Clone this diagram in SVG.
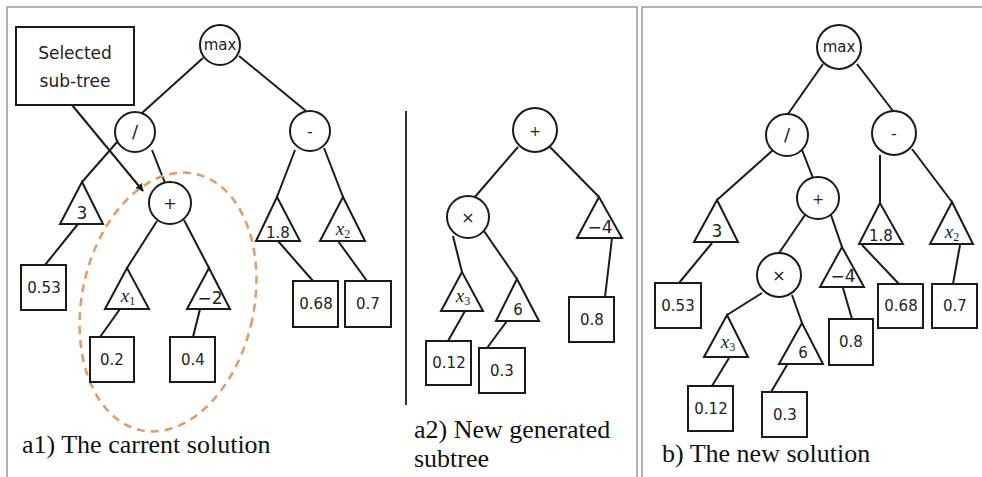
<svg xmlns="http://www.w3.org/2000/svg" width="982" height="477" viewBox="0 0 982 477">
<defs>
<style>
.frame{stroke:#9a9a9a;stroke-width:1.5;fill:none}
.e{stroke:#1a1a1a;stroke-width:2;fill:none}
.c{fill:#fff;stroke:#1a1a1a;stroke-width:2}
.t{fill:#fff;stroke:#1a1a1a;stroke-width:2;stroke-linejoin:miter}
.b{fill:#fff;stroke:#1a1a1a;stroke-width:2}
.op{font-family:"DejaVu Sans",sans-serif;font-size:16px;fill:#222;text-anchor:middle}
.mx{font-family:"DejaVu Sans",sans-serif;font-size:15px;fill:#222;text-anchor:middle}
.num{font-family:"DejaVu Sans",sans-serif;font-size:15px;fill:#222;text-anchor:middle}
.tl{font-family:"DejaVu Sans",sans-serif;font-size:15px;fill:#222;text-anchor:middle}
.var{font-family:"Liberation Serif",serif;font-style:italic;font-size:19px;fill:#222;text-anchor:middle}
.sub{font-style:normal;font-size:12px}
.cap{font-family:"Liberation Serif",serif;font-size:26px;fill:#111}
.note{font-family:"DejaVu Sans",sans-serif;font-size:17px;fill:#222;text-anchor:middle}
</style>
<marker id="ah" viewBox="0 0 10 10" refX="9" refY="5" markerWidth="8" markerHeight="8" orient="auto" markerUnits="userSpaceOnUse">
<path d="M0,0 L10,5 L0,10 z" fill="#1a1a1a"/>
</marker>
</defs>
<rect width="982" height="477" fill="#fff"/>
<g id="frames">
<path class="frame" d="M7,477 V7 H637 V477"/>
<path class="frame" d="M642,477 V7 H982"/>
<line x1="406" y1="111" x2="406" y2="405" stroke="#333" stroke-width="2"/>
</g>
<g id="connectors">
<line class="e" x1="203" y1="58" x2="142" y2="113"/>
<line class="e" x1="239" y1="56" x2="306" y2="111"/>
<line class="e" x1="118" y1="141" x2="82" y2="182"/>
<line class="e" x1="152" y1="150" x2="165" y2="183"/>
<line class="e" x1="295" y1="150" x2="277" y2="197"/>
<line class="e" x1="324" y1="148" x2="343" y2="197"/>
<line class="e" x1="157" y1="221" x2="127" y2="268"/>
<line class="e" x1="184" y1="220" x2="209" y2="268"/>
<line class="e" x1="78" y1="224" x2="45" y2="265"/>
<line class="e" x1="120" y1="309" x2="100" y2="337"/>
<line class="e" x1="200" y1="309" x2="193" y2="337"/>
<line class="e" x1="278" y1="241" x2="313" y2="281"/>
<line class="e" x1="338" y1="241" x2="367" y2="281"/>
<line class="e" x1="72" y1="105" x2="143" y2="191" marker-end="url(#ah)"/>
<line class="e" x1="518" y1="147" x2="474" y2="198"/>
<line class="e" x1="550" y1="147" x2="599" y2="197"/>
<line class="e" x1="453" y1="236" x2="462" y2="272"/>
<line class="e" x1="484" y1="231" x2="517" y2="279"/>
<line class="e" x1="465" y1="311" x2="448" y2="341"/>
<line class="e" x1="507" y1="321" x2="487" y2="348"/>
<line class="e" x1="612" y1="238" x2="605" y2="297"/>
<line class="e" x1="823" y1="64" x2="788" y2="114"/>
<line class="e" x1="857" y1="64" x2="893" y2="111"/>
<line class="e" x1="773" y1="150" x2="717" y2="200"/>
<line class="e" x1="802" y1="150" x2="813" y2="178"/>
<line class="e" x1="880" y1="155" x2="880" y2="203"/>
<line class="e" x1="912" y1="149" x2="952" y2="202"/>
<line class="e" x1="805" y1="215" x2="779" y2="253"/>
<line class="e" x1="831" y1="215" x2="842" y2="247"/>
<line class="e" x1="712" y1="243" x2="679" y2="283"/>
<line class="e" x1="862" y1="245" x2="899" y2="284"/>
<line class="e" x1="960" y1="245" x2="953" y2="284"/>
<line class="e" x1="762" y1="293" x2="727" y2="315"/>
<line class="e" x1="792" y1="295" x2="802" y2="323"/>
<line class="e" x1="843" y1="288" x2="852" y2="319"/>
<line class="e" x1="729" y1="358" x2="712" y2="386"/>
<line class="e" x1="787" y1="365" x2="771" y2="392"/>
</g>
<g id="selection">
<ellipse cx="168" cy="302" rx="86" ry="131" transform="rotate(12 168 302)" fill="none" stroke="#E39A63" stroke-width="2.5" stroke-dasharray="8 6"/>
</g>
<g id="note">
<rect x="16" y="27" width="118" height="78" fill="#fff" stroke="#1a1a1a" stroke-width="2"/>
<text class="note" x="75" y="59">Selected</text>
<text class="note" x="75" y="87">sub-tree</text>
</g>
<g id="a1-max"><circle class="c" cx="220" cy="45" r="20"/><text class="mx" x="220" y="50">max</text></g>
<g id="a1-div"><circle class="c" cx="135" cy="132" r="20"/><text class="op" x="135" y="138" style="font-size:18px">/</text></g>
<g id="a1-minus"><circle class="c" cx="310" cy="131" r="20"/><text class="op" x="310" y="137">-</text></g>
<g id="a1-plus"><circle class="c" cx="170" cy="203" r="21"/><text class="op" x="170" y="209">+</text></g>
<g id="a1-t3"><polygon class="t" points="82,182 60,224 103,224"/><text class="tl" x="82" y="219" style="font-size:17px">3</text></g>
<g id="a1-t18"><polygon class="t" points="277,197 256,241 300,241"/><text class="tl" x="278" y="238">1.8</text></g>
<g id="a1-tx2"><polygon class="t" points="343,197 320,241 365,241"/><text class="var" x="343" y="235">x<tspan class="sub" dy="3">2</tspan></text></g>
<g id="a1-tx1"><polygon class="t" points="127,268 105,309 149,309"/><text class="var" x="128" y="302">x<tspan class="sub" dy="3">1</tspan></text></g>
<g id="a1-tm2"><polygon class="t" points="209,268 187,309 230,309"/><text class="tl" x="210" y="304" style="font-size:17px">−2</text></g>
<g id="a1-b053"><rect class="b" x="21" y="265" width="45" height="45"/><text class="num" x="44" y="293">0.53</text></g>
<g id="a1-b02"><rect class="b" x="90" y="337" width="44" height="45"/><text class="num" x="112" y="365">0.2</text></g>
<g id="a1-b04"><rect class="b" x="170" y="337" width="45" height="45"/><text class="num" x="193" y="365">0.4</text></g>
<g id="a1-b068"><rect class="b" x="293" y="281" width="45" height="46"/><text class="num" x="316" y="309">0.68</text></g>
<g id="a1-b07"><rect class="b" x="345" y="281" width="46" height="46"/><text class="num" x="368" y="309">0.7</text></g>
<g id="a2-plus"><circle class="c" cx="535" cy="130" r="22"/><text class="op" x="535" y="136" style="font-size:14px">+</text></g>
<g id="a2-times"><circle class="c" cx="468" cy="217" r="21"/><text class="op" x="468" y="223">×</text></g>
<g id="a2-tm4"><polygon class="t" points="599,197 577,238 622,238"/><text class="tl" x="600" y="233" style="font-size:17px">−4</text></g>
<g id="a2-tx3"><polygon class="t" points="462,272 441,311 483,311"/><text class="var" x="463" y="302">x<tspan class="sub" dy="3">3</tspan></text></g>
<g id="a2-t6"><polygon class="t" points="517,279 496,321 539,321"/><text class="tl" x="518" y="315">6</text></g>
<g id="a2-b012"><rect class="b" x="426" y="341" width="45" height="44"/><text class="num" x="449" y="368">0.12</text></g>
<g id="a2-b03"><rect class="b" x="479" y="348" width="46" height="45"/><text class="num" x="502" y="376">0.3</text></g>
<g id="a2-b08"><rect class="b" x="569" y="297" width="45" height="45"/><text class="num" x="592" y="325">0.8</text></g>
<g id="b-max"><circle class="c" cx="839" cy="47" r="22"/><text class="mx" x="839" y="52">max</text></g>
<g id="b-div"><circle class="c" cx="787" cy="135" r="21"/><text class="op" x="787" y="141" style="font-size:18px">/</text></g>
<g id="b-minus"><circle class="c" cx="894" cy="133" r="22"/><text class="op" x="894" y="139">-</text></g>
<g id="b-plus"><circle class="c" cx="818" cy="198" r="21"/><text class="op" x="818" y="204" style="font-size:14px">+</text></g>
<g id="b-times"><circle class="c" cx="779" cy="275" r="22"/><text class="op" x="779" y="281">×</text></g>
<g id="b-t3"><polygon class="t" points="717,200 694,242 738,242"/><text class="tl" x="717" y="237" style="font-size:17px">3</text></g>
<g id="b-t18"><polygon class="t" points="880,203 859,244 903,244"/><text class="tl" x="881" y="241">1.8</text></g>
<g id="b-tx2"><polygon class="t" points="952,202 930,244 973,244"/><text class="var" x="952" y="238">x<tspan class="sub" dy="3">2</tspan></text></g>
<g id="b-tm4"><polygon class="t" points="842,247 820,287 864,287"/><text class="tl" x="843" y="282" style="font-size:17px">−4</text></g>
<g id="b-tx3"><polygon class="t" points="727,315 704,357 748,357"/><text class="var" x="728" y="348">x<tspan class="sub" dy="3">3</tspan></text></g>
<g id="b-t6"><polygon class="t" points="802,323 779,364 823,364"/><text class="tl" x="803" y="358">6</text></g>
<g id="b-b053"><rect class="b" x="655" y="283" width="46" height="45"/><text class="num" x="678" y="311">0.53</text></g>
<g id="b-b068"><rect class="b" x="878" y="284" width="45" height="44"/><text class="num" x="901" y="311">0.68</text></g>
<g id="b-b07"><rect class="b" x="932" y="284" width="45" height="44"/><text class="num" x="955" y="311">0.7</text></g>
<g id="b-b08"><rect class="b" x="829" y="319" width="44" height="46"/><text class="num" x="851" y="347">0.8</text></g>
<g id="b-b012"><rect class="b" x="688" y="386" width="45" height="45"/><text class="num" x="711" y="414">0.12</text></g>
<g id="b-b03"><rect class="b" x="762" y="392" width="45" height="45"/><text class="num" x="785" y="420">0.3</text></g>
<g id="captions">
<text class="cap" x="22" y="453">a1) The carrent solution</text>
<text class="cap" x="414" y="438">a2) New generated</text>
<text class="cap" x="414" y="467">subtree</text>
<text class="cap" x="662" y="462">b) The new solution</text>
</g>
</svg>
